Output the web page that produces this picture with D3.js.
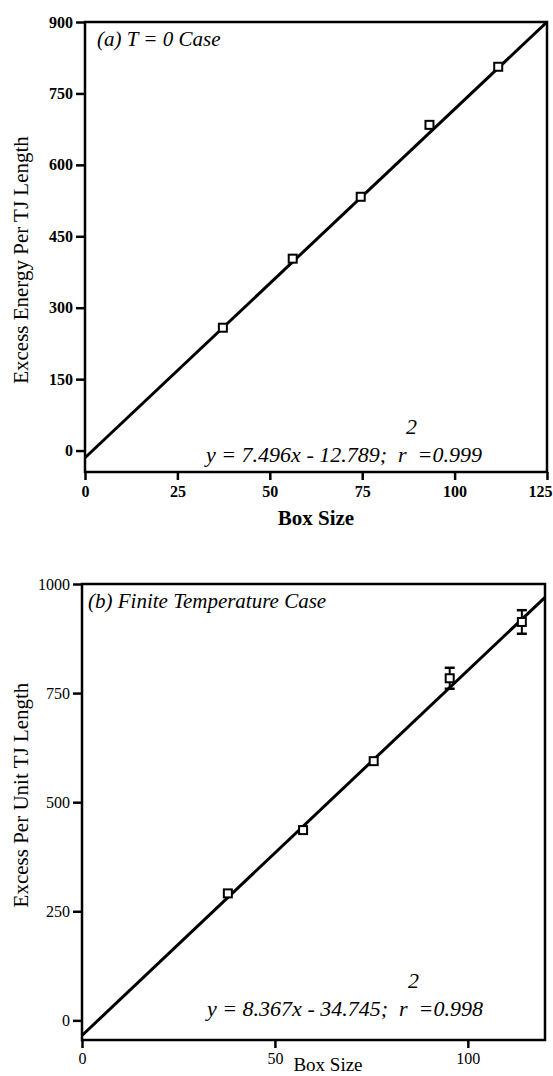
<!DOCTYPE html>
<html>
<head>
<meta charset="utf-8">
<script src="https://cdn.jsdelivr.net/npm/d3@7"></script>
<style>
  body { margin: 0; background: #fff; }
  svg text { font-family: "Liberation Serif", "DejaVu Serif", serif; fill: #000; }
</style>
</head>
<body>
<svg id="chart" width="553" height="1076"></svg>
<script>
// panel (a): T = 0 case
var sizeA = [37.3, 56.2, 74.6, 93.2, 111.8];
var energyA = [258, 403, 533, 684, 806];
var fitXA = [0, 125];
var fitYA = [-15, 900];
var xTicksA = [0, 25, 50, 75, 100, 125];
var yTicksA = [0, 150, 300, 450, 600, 750, 900];

// panel (b): finite temperature case
var sizeB = [37.8, 57.3, 75.6, 95.3, 114];
var energyB = [291, 436, 594, 784, 913];
var errB = [0, 0, 0, 24, 27];
var fitXB = [0, 120];
var fitYB = [-34.7, 969.3];
var xTicksB = [0, 50, 100];
var yTicksB = [0, 250, 500, 750, 1000];

var svg = d3.select("#chart");

function drawPanel(p) {
  var x = d3.scaleLinear().domain(p.xDomain).range([p.left, p.right]);
  var y = d3.scaleLinear().domain(p.yDomain).range([p.bottom, p.top]);
  var g = svg.append("g");

  var clipId = "clip" + p.id;
  svg.append("clipPath").attr("id", clipId)
    .append("rect")
    .attr("x", p.left).attr("y", p.top)
    .attr("width", p.right - p.left).attr("height", p.bottom - p.top);

  // frame
  g.append("rect")
    .attr("x", p.left).attr("y", p.top)
    .attr("width", p.right - p.left).attr("height", p.bottom - p.top)
    .attr("fill", "none").attr("stroke", "#000").attr("stroke-width", 2.5);

  // axes
  var yAxis = g.append("g")
    .attr("transform", "translate(" + p.left + ",0)")
    .call(d3.axisLeft(y).tickValues(p.yTicks).tickSize(9).tickPadding(3).tickFormat(d3.format("d")));
  var xAxis = g.append("g")
    .attr("transform", "translate(0," + p.bottom + ")")
    .call(d3.axisBottom(x).tickValues(p.xTicks).tickSize(8).tickPadding(p.xPad).tickFormat(d3.format("d")));
  [xAxis, yAxis].forEach(function(a) {
    a.select(".domain").remove();
    a.selectAll(".tick line").attr("stroke", "#000").attr("stroke-width", 2.5);
    a.selectAll(".tick text")
      .style("font-family", "'Liberation Serif', serif")
      .style("font-size", p.tickFont + "px")
      .style("font-weight", p.tickWeight)
      .attr("fill", "#000");
  });
  // keep the last x label inside the page
  xAxis.selectAll(".tick text").filter(function(d) { return d === 125; }).attr("dx", -7);

  // fit line
  var line = d3.line().x(function(d) { return x(d[0]); }).y(function(d) { return y(d[1]); });
  g.append("path")
    .datum(d3.zip(p.fitX, p.fitY))
    .attr("clip-path", "url(#" + clipId + ")")
    .attr("d", line)
    .attr("fill", "none").attr("stroke", "#000").attr("stroke-width", 3);

  // error bars
  var pts = p.sizes.map(function(s, i) { return { x: s, y: p.values[i], e: p.errs ? p.errs[i] : 0 }; });
  var eb = g.selectAll(".err").data(pts.filter(function(d) { return d.e > 0; }))
    .enter().append("g").attr("class", "err");
  eb.append("line")
    .attr("x1", function(d) { return x(d.x); }).attr("x2", function(d) { return x(d.x); })
    .attr("y1", function(d) { return y(d.y + d.e); }).attr("y2", function(d) { return y(d.y - d.e); })
    .attr("stroke", "#000").attr("stroke-width", 2);
  [1, -1].forEach(function(s) {
    eb.append("line")
      .attr("x1", function(d) { return x(d.x) - 5; }).attr("x2", function(d) { return x(d.x) + 5; })
      .attr("y1", function(d) { return y(d.y + s * d.e); }).attr("y2", function(d) { return y(d.y + s * d.e); })
      .attr("stroke", "#000").attr("stroke-width", 2.5);
  });

  // square markers
  g.selectAll(".pt").data(pts).enter().append("rect")
    .attr("class", "pt")
    .attr("x", function(d) { return x(d.x) - 4; })
    .attr("y", function(d) { return y(d.y) - 4; })
    .attr("width", 8).attr("height", 8)
    .attr("fill", "#fff").attr("stroke", "#000").attr("stroke-width", 2);

  // labels
  g.append("text")
    .attr("x", p.titleX).attr("y", p.top + 24)
    .style("font-size", "21px").style("font-style", "italic")
    .text(p.title);

  g.append("text")
    .attr("x", p.eqX).attr("y", p.eqY)
    .style("font-size", "22px").style("font-style", "italic")
    .attr("xml:space", "preserve")
    .text(p.equation);
  g.append("text")
    .attr("x", p.supX).attr("y", p.eqY - 28)
    .style("font-size", "22px").style("font-style", "italic")
    .text("2");

  g.append("text")
    .attr("transform", "translate(" + p.yLabelX + "," + p.yLabelY + ") rotate(-90)")
    .attr("text-anchor", "middle")
    .style("font-size", "21px")
    .text(p.yLabel);

  g.append("text")
    .attr("x", p.xLabelX).attr("y", p.xLabelY)
    .attr("text-anchor", "middle")
    .style("font-size", p.xLabelFont + "px").style("font-weight", p.xLabelWeight)
    .text("Box Size");
}

drawPanel({
  id: "a", left: 85, right: 547, top: 22, bottom: 472,
  xDomain: [0, 125], yDomain: [-45, 900],
  xTicks: xTicksA, yTicks: yTicksA, tickFont: 16, tickWeight: "bold", xPad: 6,
  sizes: sizeA, values: energyA, errs: null,
  fitX: fitXA, fitY: fitYA,
  title: "(a) T = 0 Case", titleX: 97,
  equation: "y = 7.496x - 12.789;  r  =0.999", eqX: 206, eqY: 462, supX: 406,
  yLabel: "Excess Energy Per TJ Length", yLabelX: 28, yLabelY: 260,
  xLabelX: 316, xLabelY: 525, xLabelWeight: "bold", xLabelFont: 21
});

drawPanel({
  id: "b", left: 82, right: 545, top: 584, bottom: 1040,
  xDomain: [0, 120], yDomain: [-45, 1000],
  xTicks: xTicksB, yTicks: yTicksB, tickFont: 16, tickWeight: "normal", xPad: 5,
  sizes: sizeB, values: energyB, errs: errB,
  fitX: fitXB, fitY: fitYB,
  title: "(b) Finite Temperature Case", titleX: 88,
  equation: "y = 8.367x - 34.745;  r  =0.998", eqX: 207, eqY: 1016, supX: 408,
  yLabel: "Excess Per Unit TJ Length", yLabelX: 28, yLabelY: 795,
  xLabelX: 328, xLabelY: 1071, xLabelWeight: "normal", xLabelFont: 19
});
</script>
</body>
</html>
